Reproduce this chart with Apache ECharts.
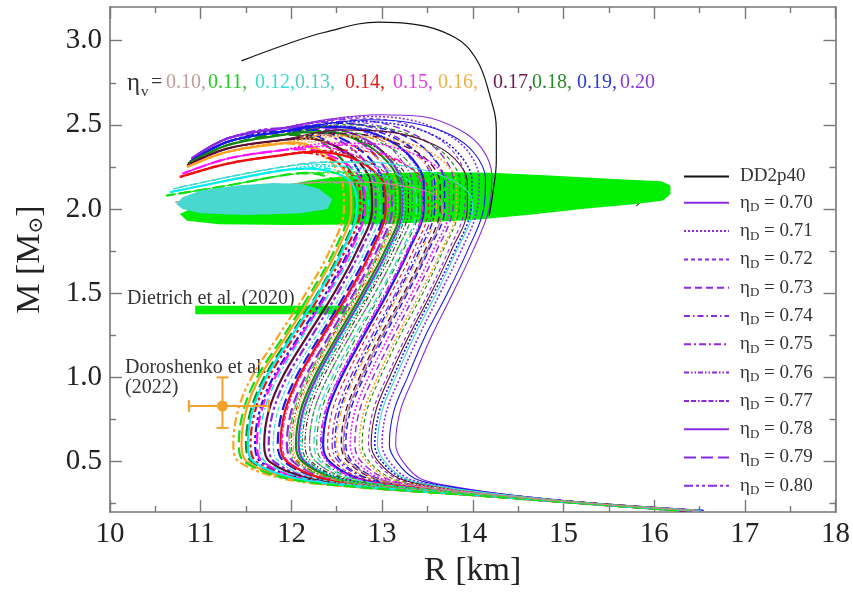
<!DOCTYPE html>
<html>
<head>
<meta charset="utf-8">
<script src="https://cdn.jsdelivr.net/npm/echarts@6/dist/echarts.min.js"></script>
<style>
  html, body { margin: 0; padding: 0; background: #ffffff; }
  #chart { width: 853px; height: 593px; }
</style>
</head>
<body>
<div id="chart"></div>
<script>
// ---- Mass grid (M_sun) on which the stable branches are tabulated ----
const massGrid = [0.21, 0.25, 0.30, 0.35, 0.40, 0.50, 0.60, 0.80, 1.00, 1.25, 1.50, 1.75];

// Each branch: d = eta_D, r = radius (km) at massGrid, top = crest points [R, M]
const branchesV20 = [
  { d: 0.70, r: [16.55,15.40,14.45,13.80,13.42,13.23,13.15,13.20,13.35,13.55,13.78,14.00], top: [[14.18,2.0],[14.21,2.2],[14.1,2.36],[13.86,2.47],[13.44,2.55],[12.97,2.56],[12.37,2.53]] },
  { d: 0.71, r: [16.52,15.39,14.41,13.70,13.29,13.08,13.00,13.05,13.20,13.41,13.64,13.87], top: [[14.05,2.0],[14.07,2.18],[13.95,2.34],[13.7,2.45],[13.3,2.53],[12.8,2.55],[12.3,2.52]] },
  { d: 0.72, r: [16.50,15.37,14.37,13.61,13.16,12.93,12.85,12.90,13.05,13.27,13.51,13.73], top: [[13.91,2.0],[13.92,2.17],[13.8,2.33],[13.55,2.44],[13.15,2.52],[12.7,2.54],[12.2,2.51]] },
  { d: 0.73, r: [16.47,15.36,14.33,13.52,13.04,12.77,12.70,12.75,12.90,13.13,13.37,13.60], top: [[13.78,2.0],[13.79,2.16],[13.66,2.32],[13.4,2.43],[13.0,2.51],[12.55,2.53],[12.15,2.505]] },
  { d: 0.74, r: [16.45,15.35,14.30,13.44,12.94,12.65,12.58,12.63,12.78,13.01,13.26,13.50], top: [[13.67,2.0],[13.68,2.16],[13.55,2.31],[13.28,2.43],[12.88,2.505],[12.45,2.52],[12.1,2.50]] },
  { d: 0.75, r: [16.43,15.34,14.27,13.36,12.83,12.52,12.45,12.50,12.65,12.89,13.15,13.38], top: [[13.55,2.0],[13.55,2.16],[13.42,2.31],[13.15,2.43],[12.75,2.50],[12.35,2.515]] },
  { d: 0.76, r: [16.41,15.33,14.24,13.28,12.71,12.39,12.32,12.37,12.52,12.77,13.03,13.27], top: [[13.44,2.0],[13.44,2.15],[13.31,2.30],[13.05,2.42],[12.65,2.49],[12.25,2.50]] },
  { d: 0.77, r: [16.39,15.32,14.21,13.20,12.61,12.27,12.20,12.25,12.40,12.65,12.92,13.16], top: [[13.33,2.0],[13.33,2.15],[13.2,2.30],[12.95,2.42],[12.55,2.49],[12.15,2.495]] },
  { d: 0.78, r: [16.37,15.31,14.17,13.12,12.51,12.15,12.08,12.13,12.28,12.54,12.81,13.06], top: [[13.23,2.0],[13.22,2.15],[13.09,2.29],[12.83,2.41],[12.45,2.48],[12.12,2.49]] },
  { d: 0.79, r: [16.35,15.30,14.14,13.04,12.40,12.02,11.95,12.00,12.15,12.42,12.69,12.94], top: [[13.11,2.0],[13.1,2.15],[12.97,2.29],[12.72,2.41],[12.35,2.475],[12.1,2.485]] },
  { d: 0.80, r: [16.32,15.28,14.09,12.92,12.23,11.81,11.75,11.80,11.95,12.23,12.51,12.76], top: [[12.93,2.0],[12.92,2.15],[12.8,2.29],[12.55,2.40],[12.2,2.475]] }
];
const unstableV20 = [[11.9,2.48],[11.3,2.42],[10.9,2.30]];

const branchesV19 = [
  { d: 0.70, r: [16.54,15.39,14.43,13.76,13.36,13.16,13.08,13.13,13.28,13.48,13.72,13.94], top: [[14.12,2.0],[14.14,2.18],[14.02,2.33],[13.76,2.44],[13.35,2.51],[12.85,2.53],[12.3,2.50]] },
  { d: 0.71, r: [16.51,15.38,14.39,13.66,13.23,13.00,12.92,12.97,13.12,13.33,13.57,13.80], top: [[13.98,2.0],[13.99,2.17],[13.86,2.32],[13.6,2.43],[13.2,2.50],[12.7,2.52],[12.2,2.49]] },
  { d: 0.73, r: [16.46,15.35,14.31,13.45,12.95,12.67,12.60,12.65,12.80,13.03,13.28,13.51], top: [[13.69,2.0],[13.69,2.16],[13.56,2.31],[13.3,2.42],[12.9,2.49],[12.45,2.51],[12.1,2.485]] },
  { d: 0.75, r: [16.44,15.34,14.28,13.38,12.85,12.55,12.48,12.53,12.68,12.92,13.17,13.41], top: [[13.58,2.0],[13.58,2.16],[13.45,2.30],[13.18,2.41],[12.78,2.48],[12.4,2.49],[12.1,2.47]] },
  { d: 0.78, r: [16.42,15.33,14.24,13.29,12.74,12.42,12.35,12.40,12.55,12.80,13.06,13.29], top: [[13.46,2.0],[13.46,2.16],[13.33,2.30],[13.07,2.41],[12.68,2.48],[12.3,2.49]] },
  { d: 0.79, r: [16.33,15.29,14.12,12.98,12.32,11.92,11.85,11.90,12.05,12.32,12.60,12.85], top: [[13.02,2.0],[13.01,2.15],[12.88,2.29],[12.62,2.40],[12.25,2.47]] },
  { d: 0.80, r: [16.29,15.27,14.05,12.82,12.10,11.66,11.60,11.65,11.80,12.09,12.38,12.63], top: [[12.80,2.0],[12.79,2.15],[12.66,2.29],[12.4,2.40],[12.12,2.46]] }
];
const unstableV19 = [[11.9,2.46],[11.3,2.40],[10.88,2.28]];

const branchesV18 = [
  { d: 0.72, r: [16.49,15.37,14.35,13.57,13.11,12.86,12.78,12.83,12.98,13.20,13.45,13.67], top: [[13.85,2.0],[13.86,2.16],[13.72,2.31],[13.45,2.41],[13.05,2.48],[12.55,2.50],[12.15,2.47]] },
  { d: 0.74, r: [16.40,15.33,14.23,13.25,12.68,12.35,12.28,12.33,12.48,12.73,12.99,13.23], top: [[13.40,2.0],[13.40,2.15],[13.27,2.29],[13.0,2.39],[12.62,2.46],[12.25,2.465]] },
  { d: 0.76, r: [16.38,15.31,14.19,13.15,12.55,12.19,12.12,12.17,12.32,12.58,12.85,13.09], top: [[13.26,2.0],[13.25,2.15],[13.12,2.28],[12.86,2.39],[12.48,2.455],[12.15,2.455]] },
  { d: 0.78, r: [16.37,15.31,14.17,13.11,12.49,12.12,12.05,12.10,12.25,12.51,12.78,13.03], top: [[13.20,2.0],[13.19,2.15],[13.06,2.28],[12.8,2.39],[12.42,2.455],[12.12,2.455]] },
  { d: 0.79, r: [16.27,15.26,14.03,12.76,12.02,11.56,11.50,11.55,11.70,11.99,12.29,12.54], top: [[12.71,2.0],[12.70,2.15],[12.58,2.28],[12.35,2.39],[12.1,2.44]] }
];
const unstableV18 = [[11.9,2.44],[11.3,2.38],[10.86,2.27]];

const branchesV17 = [
  { d: 0.70, r: [16.50,15.38,14.38,13.63,13.19,12.96,12.88,12.93,13.08,13.30,13.54,13.76], top: [[13.94,2.0],[13.94,2.16],[13.8,2.30],[13.5,2.40],[13.05,2.46],[12.55,2.47],[12.15,2.44]] },
  { d: 0.73, r: [16.45,15.35,14.30,13.42,12.91,12.62,12.55,12.60,12.75,12.98,13.24,13.47], top: [[13.64,2.0],[13.64,2.15],[13.5,2.29],[13.22,2.38],[12.82,2.44],[12.4,2.45],[12.1,2.425]] },
  { d: 0.76, r: [16.38,15.32,14.19,13.17,12.57,12.22,12.15,12.20,12.35,12.61,12.87,13.12], top: [[13.29,2.0],[13.29,2.15],[13.15,2.28],[12.88,2.38],[12.5,2.44],[12.15,2.43]] },
  { d: 0.78, r: [16.31,15.28,14.08,12.88,12.19,11.76,11.70,11.75,11.90,12.18,12.47,12.72], top: [[12.89,2.0],[12.88,2.14],[12.76,2.27],[12.5,2.37],[12.18,2.42]] }
];
const unstableV17 = [[11.9,2.41],[11.3,2.36],[10.85,2.26]];

const branchesV16 = [
  { d: 0.71, r: [16.48,15.37,14.35,13.55,13.08,12.83,12.75,12.80,12.95,13.17,13.42,13.65], top: [[13.82,2.0],[13.82,2.15],[13.68,2.28],[13.4,2.37],[13.0,2.42],[12.5,2.43],[12.1,2.41]] },
  { d: 0.74, r: [16.44,15.35,14.28,13.39,12.87,12.57,12.50,12.55,12.70,12.94,13.19,13.43], top: [[13.60,2.0],[13.60,2.15],[13.46,2.28],[13.18,2.37],[12.78,2.43],[12.35,2.44],[12.1,2.42]] },
  { d: 0.76, r: [16.36,15.31,14.16,13.09,12.46,12.09,12.02,12.07,12.22,12.48,12.76,13.00], top: [[13.17,2.0],[13.16,2.14],[13.02,2.27],[12.75,2.36],[12.35,2.40],[12.05,2.395]] },
  { d: 0.78, r: [16.27,15.26,14.01,12.73,11.98,11.51,11.45,11.50,11.65,11.95,12.24,12.50], top: [[12.66,2.0],[12.65,2.14],[12.52,2.27],[12.28,2.36],[12.05,2.395]] },
  { d: 0.80, r: [16.25,15.25,13.99,12.67,11.90,11.42,11.36,11.41,11.56,11.86,12.16,12.42], top: [[12.58,2.0],[12.57,2.14],[12.45,2.27],[12.22,2.36],[12.05,2.385]] }
];
const unstableV16 = [[11.9,2.39],[11.3,2.34],[10.85,2.25]];

const branchesV15 = [
  { d: 0.71, r: [16.47,15.36,14.32,13.48,12.99,12.72,12.65,12.70,12.85,13.08,13.33,13.56], top: [[13.74,2.0],[13.74,2.14],[13.58,2.26],[13.28,2.34],[12.85,2.39],[12.4,2.39],[12.1,2.37]] },
  { d: 0.75, r: [16.41,15.33,14.24,13.28,12.72,12.40,12.33,12.38,12.53,12.78,13.04,13.28], top: [[13.45,2.0],[13.44,2.14],[13.3,2.25],[13.0,2.33],[12.6,2.38],[12.2,2.37]] },
  { d: 0.77, r: [16.34,15.30,14.13,13.01,12.36,11.97,11.90,11.95,12.10,12.37,12.65,12.90], top: [[13.07,2.0],[13.06,2.14],[12.92,2.25],[12.65,2.33],[12.3,2.37]] },
  { d: 0.79, r: [16.29,15.27,14.06,12.83,12.12,11.68,11.62,11.67,11.82,12.11,12.40,12.65], top: [[12.81,2.0],[12.8,2.13],[12.67,2.24],[12.42,2.32],[12.12,2.355]] }
];
const unstableV15 = [[11.9,2.35],[11.3,2.30],[10.8,2.21]];

const branchesV14 = [
  { d: 0.72, r: [16.42,15.34,14.26,13.33,12.78,12.47,12.40,12.45,12.60,12.84,13.10,13.34], top: [[13.51,2.0],[13.5,2.13],[13.35,2.23],[13.05,2.31],[12.65,2.35],[12.2,2.345]] },
  { d: 0.76, r: [16.36,15.30,14.15,13.07,12.44,12.07,12.00,12.05,12.20,12.46,12.74,12.98], top: [[13.15,2.0],[13.14,2.13],[13.0,2.23],[12.72,2.31],[12.35,2.345]] },
  { d: 0.78, r: [16.34,15.29,14.12,12.99,12.34,11.95,11.88,11.93,12.08,12.35,12.63,12.88], top: [[13.04,2.0],[13.03,2.13],[12.9,2.23],[12.63,2.31],[12.25,2.34]] },
  { d: 0.80, r: [16.28,15.27,14.04,12.79,12.06,11.61,11.55,11.60,11.75,12.04,12.33,12.59], top: [[12.76,2.0],[12.75,2.13],[12.62,2.23],[12.38,2.31],[12.1,2.335]] }
];
const unstableV14 = [[11.9,2.32],[11.3,2.27],[10.77,2.19]];

const branchesV13 = [
  { d: 0.70, r: [16.52,15.38,14.40,13.67,13.25,13.03,12.95,13.00,13.15,13.36,13.60,13.82], top: [[14.0,2.0],[13.95,2.1],[13.7,2.19],[13.3,2.25],[12.8,2.28],[12.3,2.275]] },
  { d: 0.73, r: [16.40,15.32,14.22,13.23,12.66,12.32,12.25,12.30,12.45,12.70,12.97,13.21], top: [[13.38,2.0],[13.36,2.12],[13.15,2.21],[12.8,2.27],[12.35,2.28]] },
  { d: 0.77, r: [16.32,15.29,14.10,12.95,12.27,11.86,11.80,11.85,12.00,12.28,12.56,12.81], top: [[12.98,2.0],[12.96,2.12],[12.8,2.2],[12.5,2.26],[12.15,2.265]] }
];
const unstableV13 = [[11.9,2.25],[11.3,2.19],[10.7,2.12]];

const branchesV12 = [
  { d: 0.71, r: [16.37,15.31,14.18,13.14,12.53,12.17,12.10,12.15,12.30,12.56,12.83,13.07], top: [[13.24,2.0],[13.22,2.12],[13.0,2.2],[12.65,2.25],[12.25,2.255]] },
  { d: 0.75, r: [16.30,15.27,14.06,12.85,12.15,11.71,11.65,11.70,11.85,12.13,12.42,12.68], top: [[12.85,2.0],[12.83,2.12],[12.65,2.2],[12.3,2.245]] },
  { d: 0.78, r: [16.28,15.26,14.03,12.77,12.04,11.58,11.52,11.57,11.72,12.01,12.30,12.56], top: [[12.72,2.0],[12.7,2.12],[12.55,2.2],[12.2,2.24]] }
];
const unstableV12 = [[11.9,2.23],[11.3,2.17],[10.66,2.10]];

const branchesV11 = [
  { d: 0.72, r: [16.39,15.32,14.21,13.20,12.61,12.27,12.20,12.25,12.40,12.65,12.92,13.16], top: [[13.33,2.0],[13.3,2.11],[13.05,2.18],[12.65,2.22],[12.2,2.215]] },
  { d: 0.75, r: [16.35,15.30,14.15,13.06,12.43,12.05,11.98,12.03,12.18,12.45,12.72,12.97], top: [[13.13,2.0],[13.1,2.11],[12.9,2.18],[12.5,2.215],[12.15,2.21]] },
  { d: 0.79, r: [16.26,15.26,14.01,12.71,11.95,11.48,11.42,11.47,11.62,11.92,12.21,12.47], top: [[12.63,2.0],[12.6,2.11],[12.45,2.18],[12.15,2.215]] }
];
const unstableV11 = [[11.9,2.20],[11.3,2.14],[10.62,2.08]];

const branchesV10 = [
  { d: 0.70, r: [16.45,15.35,14.30,13.43,12.93,12.64,12.57,12.62,12.77,13.00,13.26,13.49], top: [[13.67,2.0],[13.6,2.08],[13.3,2.13],[12.8,2.16],[12.3,2.16]] },
  { d: 0.74, r: [16.35,15.30,14.15,13.06,12.42,12.04,11.97,12.02,12.17,12.44,12.71,12.96], top: [[13.13,2.0],[13.08,2.08],[12.85,2.13],[12.45,2.155],[12.1,2.15]] }
];
const unstableV10 = [[11.9,2.14],[11.3,2.10],[10.72,2.04]];

// DD2p40 reference EOS
const dd2p40 = [[11.45,2.88],[11.9,2.97],[12.37,3.05],[12.97,3.11],[13.32,3.10],[13.8,3.02],[14.04,2.89],[14.18,2.69],[14.26,2.47],[14.26,2.29],[14.22,2.09],[14.18,1.96]];

// Observational constraints
const nicerBand = [[10.77,1.97],[10.85,1.93],[11.2,1.91],[12.0,1.905],[13.0,1.91],[14.0,1.935],[14.6,1.965],[15.2,2.0],[15.8,2.03],[16.1,2.05],[16.18,2.09],[16.18,2.14],[16.08,2.165],[15.5,2.18],[14.8,2.2],[14.2,2.215],[13.5,2.22],[12.8,2.21],[12.2,2.17],[11.5,2.1],[11.0,2.03]];
const denseCore = [[10.73,2.03],[10.8,2.07],[11.0,2.11],[11.4,2.14],[11.8,2.155],[12.1,2.15],[12.3,2.12],[12.45,2.06],[12.4,2.0],[12.1,1.975],[11.5,1.965],[11.0,1.975],[10.8,2.0]];
const dietrichR = [10.94, 12.61];
const dietrichM = [1.375, 1.425];
const doroCenter = [11.24, 0.83];
const doroR = [10.87, 11.75];
const doroM = [0.70, 1.00];

// Axis ticks
const yMajor = [0.5, 1.0, 1.5, 2.0, 2.5, 3.0];
const yMinor = [0.25, 0.75, 1.25, 1.75, 2.25, 2.75];
const etaDList = ['0.70','0.71','0.72','0.73','0.74','0.75','0.76','0.77','0.78','0.79','0.80'];
const etaVLabels = ['0.10,','0.11,','0.12,','0.13,','0.14,','0.15,','0.16,','0.17,','0.18,','0.19,','0.20'];

// ---- styling ----
const SERIF = '"Liberation Serif", "DejaVu Serif", serif';
const dashStyles = {
  '0.70': { type: 'solid', width: 1.1 },
  '0.71': { type: [2, 2], width: 1.6 },
  '0.72': { type: [4, 3], width: 1.1 },
  '0.73': { type: [7, 4], width: 1.4 },
  '0.74': { type: [6, 3, 1.5, 3], width: 1.1 },
  '0.75': { type: [7, 3, 2, 3], width: 1.4 },
  '0.76': { type: [5, 2, 1.5, 2, 1.5, 2], width: 1.1 },
  '0.77': { type: [5, 2, 5, 2, 1.5, 2], width: 1.2 },
  '0.78': { type: 'solid', width: 2.2 },
  '0.79': { type: [12, 5], width: 2.2 },
  '0.80': { type: [9, 3, 3, 3, 3, 3], width: 2.2 }
};
const families = [
  { color: '#8a2be2', branches: branchesV20, unstable: unstableV20 },
  { color: '#1a1ae6', branches: branchesV19, unstable: unstableV19 },
  { color: '#118a11', branches: branchesV18, unstable: unstableV18 },
  { color: '#5c0f35', branches: branchesV17, unstable: unstableV17 },
  { color: '#ffa020', branches: branchesV16, unstable: unstableV16 },
  { color: '#ff10ff', branches: branchesV15, unstable: unstableV15 },
  { color: '#ee1010', branches: branchesV14, unstable: unstableV14 },
  { color: '#40d8d0', branches: branchesV13, unstable: unstableV13 },
  { color: '#00eeee', branches: branchesV12, unstable: unstableV12 },
  { color: '#10e010', branches: branchesV11, unstable: unstableV11 },
  { color: '#c09090', branches: branchesV10, unstable: unstableV10 }
];
const etaVColors = ['#c49a9a','#22cc22','#33dddd','#55cccc','#e02020','#e040e0','#f0b040','#6a1a50','#2a8a2a','#2a3ad0','#8a3ad6'];
const etaVX = [166, 208, 255, 295, 345, 393, 438, 493, 532, 577, 620];

const series = [];

series.push({
  type: 'line', name: 'DD2p40', data: dd2p40, smooth: 0.4, symbol: 'none', z: 4,
  lineStyle: { color: '#111111', width: 1.2 }, itemStyle: { color: '#111111' }
});

families.forEach(function (f) {
  f.branches.forEach(function (b) {
    const key = b.d.toFixed(2);
    const pts = massGrid.map(function (m, i) { return [b.r[i], m]; }).concat(b.top, f.unstable);
    series.push({
      type: 'line', name: 'ηD = ' + key, data: pts, smooth: 0.35, symbol: 'none', z: 2,
      lineStyle: { color: f.color, width: dashStyles[key].width, type: dashStyles[key].type },
      itemStyle: { color: f.color }
    });
  });
});

function polygonSeries(pts, color, z) {
  return {
    type: 'custom', z: z, silent: true, data: [[0]],
    renderItem: function (params, api) {
      return { type: 'polygon', shape: { points: pts.map(function (p) { return api.coord(p); }) }, style: { fill: color } };
    }
  };
}
series.push(polygonSeries(nicerBand, '#00ee00', 1));
series.push(polygonSeries(denseCore, '#48d8d0', 3));
series.push(polygonSeries([[dietrichR[0], dietrichM[0]], [dietrichR[1], dietrichM[0]], [dietrichR[1], dietrichM[1]], [dietrichR[0], dietrichM[1]]], '#00ee00', 1));

series.push({
  type: 'custom', z: 5, silent: true,
  data: [[doroCenter[0], doroCenter[1], doroR[0], doroR[1], doroM[0], doroM[1]]],
  renderItem: function (params, api) {
    const c = api.coord([api.value(0), api.value(1)]);
    const l = api.coord([api.value(2), api.value(1)]);
    const r = api.coord([api.value(3), api.value(1)]);
    const lo = api.coord([api.value(0), api.value(4)]);
    const hi = api.coord([api.value(0), api.value(5)]);
    const st = { stroke: '#f4a12c', lineWidth: 2 };
    const cap = 6;
    return {
      type: 'group', children: [
        { type: 'line', shape: { x1: l[0], y1: l[1], x2: r[0], y2: r[1] }, style: st },
        { type: 'line', shape: { x1: lo[0], y1: lo[1], x2: hi[0], y2: hi[1] }, style: st },
        { type: 'line', shape: { x1: l[0], y1: l[1] - cap, x2: l[0], y2: l[1] + cap }, style: st },
        { type: 'line', shape: { x1: r[0], y1: r[1] - cap, x2: r[0], y2: r[1] + cap }, style: st },
        { type: 'line', shape: { x1: lo[0] - cap, y1: lo[1], x2: lo[0] + cap, y2: lo[1] }, style: st },
        { type: 'line', shape: { x1: hi[0] - cap, y1: hi[1], x2: hi[0] + cap, y2: hi[1] }, style: st },
        { type: 'circle', shape: { cx: c[0], cy: c[1], r: 5.5 }, style: { fill: '#f4a12c' } }
      ]
    };
  }
});

// ---- annotations ----
const graphics = [
  { type: 'text', x: 127, y: 83, style: { text: 'η', fontSize: 25, fontFamily: SERIF, fill: '#333', verticalAlign: 'middle' } },
  { type: 'text', x: 141, y: 92, style: { text: 'v', fontSize: 15, fontFamily: SERIF, fill: '#333', verticalAlign: 'middle' } },
  { type: 'text', x: 151, y: 83, style: { text: '=', fontSize: 20, fontFamily: SERIF, fill: '#333', verticalAlign: 'middle' } },
  { type: 'text', x: 424, y: 197, style: { text: 'PSR J0740+6620 (NICER)', fontSize: 20, fontFamily: SERIF, fill: '#1e3a1e', verticalAlign: 'middle' } },
  { type: 'text', x: 127, y: 299, style: { text: 'Dietrich et al. (2020)', fontSize: 20, fontFamily: SERIF, fill: '#333', verticalAlign: 'middle' } },
  { type: 'text', x: 125, y: 368, style: { text: 'Doroshenko et al.', fontSize: 20, fontFamily: SERIF, fill: '#333', verticalAlign: 'middle' } },
  { type: 'text', x: 125, y: 388, style: { text: '(2022)', fontSize: 20, fontFamily: SERIF, fill: '#333', verticalAlign: 'middle' } }
];
etaVLabels.forEach(function (t, i) {
  graphics.push({ type: 'text', x: etaVX[i], y: 83, style: { text: t, fontSize: 20, fontFamily: SERIF, fill: etaVColors[i], verticalAlign: 'middle' } });
});

const axisLineStyle = { color: '#777777', width: 1.6 };
const tickStyle = { color: '#777777', width: 1.4 };

function yAxisDef(position, values, len, showLabels, showLine) {
  const ax = {
    type: 'value', min: 0.2, max: 3.2, position: position,
    axisLine: { show: showLine, onZero: false, lineStyle: axisLineStyle },
    axisTick: { show: true, inside: true, length: len, customValues: values, lineStyle: tickStyle },
    axisLabel: { show: showLabels, customValues: values, fontSize: 29, fontFamily: SERIF, color: '#222', margin: 8,
      formatter: function (v) { return v.toFixed(1); } },
    splitLine: { show: false }
  };
  if (showLabels) {
    ax.name = '{m|M [M}{o|⊙}{m|]}';
    ax.nameLocation = 'middle';
    ax.nameGap = 62;
    ax.nameTextStyle = { color: '#222', fontFamily: SERIF, fontSize: 34,
      rich: { m: { fontSize: 34, fontFamily: SERIF, color: '#222', lineHeight: 36 },
              o: { fontSize: 20, fontFamily: SERIF, color: '#222', lineHeight: 20, padding: [14, 0, 0, 0] } } };
  }
  return ax;
}
function xAxisDef(position, showLabels) {
  const ax = {
    type: 'value', min: 10, max: 18, interval: 1, position: position,
    axisLine: { show: true, onZero: false, lineStyle: axisLineStyle },
    axisTick: { show: true, inside: true, length: 12, lineStyle: tickStyle },
    minorTick: { show: true, splitNumber: 2, length: 6, lineStyle: tickStyle },
    axisLabel: { show: showLabels, fontSize: 29, fontFamily: SERIF, color: '#222', margin: 8 },
    splitLine: { show: false }
  };
  if (showLabels) {
    ax.name = 'R [km]';
    ax.nameLocation = 'middle';
    ax.nameGap = 38;
    ax.nameTextStyle = { color: '#222', fontFamily: SERIF, fontSize: 34 };
  }
  return ax;
}

const legendNames = ['DD2p40'].concat(etaDList.map(function (d) { return 'ηD = ' + d; }));

const option = {
  animation: false,
  backgroundColor: '#ffffff',
  grid: { left: 110, right: 13, top: 7, bottom: 71 },
  xAxis: [xAxisDef('bottom', true), xAxisDef('top', false)],
  yAxis: [
    yAxisDef('left', yMajor, 12, true, true),
    yAxisDef('left', yMinor, 6, false, false),
    yAxisDef('right', yMajor, 12, false, true),
    yAxisDef('right', yMinor, 6, false, false)
  ],
  legend: {
    orient: 'vertical', left: 678, top: 162, itemWidth: 45, itemHeight: 10, itemGap: 5.3,
    selectedMode: false, data: legendNames,
    itemStyle: { opacity: 0 },
    formatter: function (name) {
      if (name === 'DD2p40') return '{g| }{t|DD2p40}';
      return '{g| }{t|η}{s|D}{t| = ' + name.slice(5) + '}';
    },
    textStyle: {
      color: '#333', fontFamily: SERIF, fontSize: 19,
      rich: {
        g: { width: 6, fontSize: 19, lineHeight: 22 },
        t: { fontSize: 19, fontFamily: SERIF, color: '#333', lineHeight: 22 },
        s: { fontSize: 13, fontFamily: SERIF, color: '#333', lineHeight: 13, padding: [10, 0, 0, 0] }
      }
    }
  },
  graphic: graphics,
  series: series
};

const chart = echarts.init(document.getElementById('chart'), null, { renderer: 'canvas' });
chart.setOption(option);
</script>
</body>
</html>
